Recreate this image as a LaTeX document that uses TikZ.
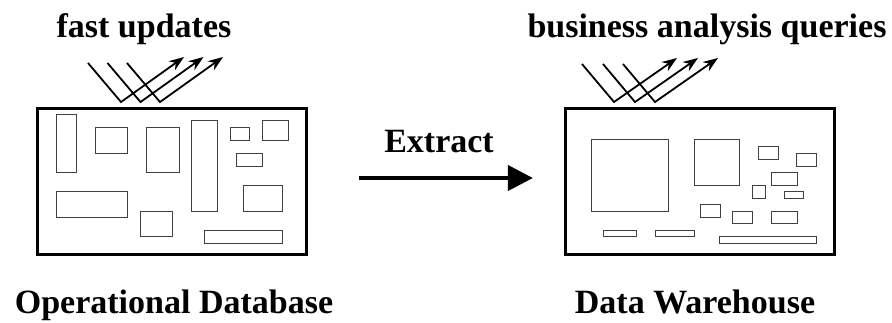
\documentclass[tikz,border=0pt]{standalone}
\usepackage{fontspec}
\setmainfont{Liberation Serif}
\usetikzlibrary{arrows.meta}

\begin{document}
\begin{tikzpicture}[x=1pt,y=-1pt,
    db/.style={draw=black,line width=3.2pt,minimum width=269pt,minimum height=146pt},
    part/.style={draw=black!75,line width=1pt},
    lbl/.style={font=\fontsize{34}{40}\selectfont\bfseries,anchor=base,inner sep=0pt},
    query/.style={line width=1.8pt,-{Stealth[length=15pt,width=11pt]}},
    extract/.style={line width=4pt,shorten <=51pt,shorten >=31pt,-{Triangle[length=25pt,width=25pt]}}]
    \useasboundingbox (0,0) rectangle (892,322);
    \node[db] (opdb) at (172,181.5) {};
    \node[db] (dw) at (700,181.5) {};
    \node[lbl] (fastupd) at (144,37) {fast updates};
    \node[lbl] (queries) at (707,37) {business analysis queries};
    \node[lbl] (opname) at (174,313) {Operational Database};
    \node[lbl] (dwname) at (695,313) {Data Warehouse};
    \foreach \a/\b/\c/\e in {56/114/76/172, 95/127/127/153, 146/127/179/172,
        191/120/217/211, 230/127/249/140, 262/120/288/140, 236/153/262/166,
        56/191/127/217, 243/185/282/211, 140/211/172/236, 204/230/282/243}
        \draw[part] (\a,\b) rectangle (\c,\e);
    \foreach \a/\b/\c/\e in {591/139/668/211, 694/139/739/185, 758/146/778/159,
        796/153/816/166, 771/172/797/185, 752/185/765/198, 784/191/803/198,
        700/204/720/217, 732/211/752/223, 771/211/797/223, 603/230/636/236,
        655/230/694/236, 719/236/816/243}
        \draw[part] (\a,\b) rectangle (\c,\e);
    \coordinate (fu) at (88,63);
    \coordinate (baq) at (582,64);
    \foreach \k in {0,19.5,39}
        \draw[query] ([xshift=\k pt]fu) -- ++(33,39) -- ++(63,-45);
    \foreach \k in {0,21,41}
        \draw[query] ([xshift=\k pt]baq) -- ++(32,38) -- ++(63,-44);
    \draw[extract] ([yshift=3.5pt]opdb.east) -- node[lbl,yshift=26pt,xshift=3pt] (extractlbl) {Extract} ([yshift=3.5pt]dw.west);
\end{tikzpicture}
\end{document}
